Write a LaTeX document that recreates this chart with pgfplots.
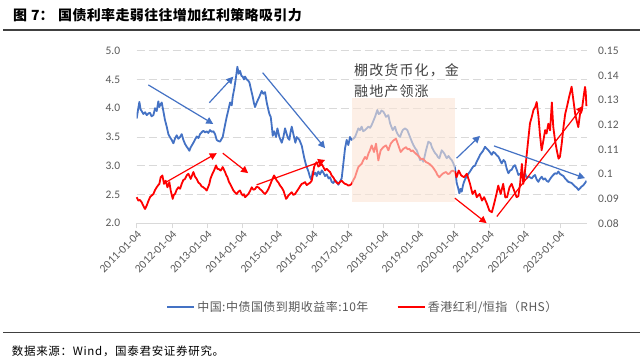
\documentclass[border=0pt]{standalone}
\usepackage{pgfplots}
\pgfplotsset{compat=1.18}
\usepackage{fontspec}
\setmainfont{Carlito}
\newfontfamily\cjk{Noto Sans CJK SC}
\usetikzlibrary{arrows.meta}
\definecolor{myblue}{HTML}{4472C4}
\definecolor{myred}{HTML}{FF0000}
\definecolor{peach}{HTML}{FBE5D6}
\definecolor{txtgray}{HTML}{595959}
\definecolor{gridgray}{HTML}{D9D9D9}
\definecolor{rulegray}{HTML}{404040}
\begin{document}
\begin{tikzpicture}[x=1pt,y=1pt]
\useasboundingbox (0,0) rectangle (640,362);
% title
\node[anchor=west, inner sep=0pt] at (13,347) {\cjk\bfseries\fontsize{14}{14}\selectfont 图\hspace{4pt}7：};
\node[anchor=west, inner sep=0pt] at (58,347) {\cjk\bfseries\fontsize{14}{14}\selectfont\addfontfeature{LetterSpace=2.5}国债利率走弱往往增加红利策略吸引力};
\draw[rulegray, line width=1.5pt] (3,332) -- (640,332);
\draw[rulegray, line width=1.5pt] (3,29.3) -- (640,29.3);
\node[anchor=west, inner sep=0pt] at (11.7,10.3) {\cjk\fontsize{11.5}{11.5}\selectfont\addfontfeature{LetterSpace=6}数据来源：Wind，国泰君安证券研究。};

\begin{axis}[
  at={(136.7pt,138.7pt)}, anchor=south west, scale only axis,
  width=450pt, height=172.6pt,
  xmin=2011, xmax=2023.758, ymin=2, ymax=5,
  xtick={2011,2012,2013,2014,2015,2016,2017,2018,2019,2020,2021,2022,2023},
  xticklabels={2011-01-04,2012-01-04,2013-01-04,2014-01-04,2015-01-04,2016-01-04,2017-01-04,2018-01-04,2019-01-04,2020-01-04,2021-01-04,2022-01-04,2023-01-04},
  x tick label style={rotate=45, anchor=north east, font=\fontsize{11.5}{11.5}\selectfont, text=txtgray, inner sep=1pt},
  ytick={2,2.5,3,3.5,4,4.5,5},
  /pgf/number format/fixed, /pgf/number format/fixed zerofill, /pgf/number format/precision=1,
  /pgf/number format/assume math mode=true,
  y tick label style={font=\fontsize{11.5}{11.5}\selectfont, text=txtgray, xshift=-8pt},
  ymajorgrids, grid style={gridgray, dash pattern=on 8pt off 4pt, line width=0.8pt},
  axis x line*=bottom, axis y line*=left,
  y axis line style={draw=none}, ytick style={draw=none},
  x axis line style={gridgray, line width=1pt, -},
  xtick style={gridgray, line width=0.8pt}, tick align=outside, major tick length=5pt,
]
\addplot[myblue, line width=1.8pt, line join=round] coordinates {
(2011.000,3.82) (2011.040,3.98) (2011.076,4.11) (2011.110,3.98) (2011.142,3.95) (2011.189,3.90)
(2011.240,3.93) (2011.284,3.88) (2011.330,3.91) (2011.378,3.92) (2011.420,3.86) (2011.473,3.88)
(2011.520,4.00) (2011.567,3.95) (2011.614,4.12) (2011.640,4.02) (2011.662,4.05) (2011.709,4.10)
(2011.756,3.95) (2011.800,3.80) (2011.851,3.68) (2011.898,3.55) (2011.940,3.50) (2011.992,3.45)
(2012.040,3.39) (2012.090,3.48) (2012.134,3.53) (2012.180,3.47) (2012.229,3.50) (2012.276,3.55)
(2012.323,3.45) (2012.370,3.38) (2012.418,3.33) (2012.455,3.30) (2012.493,3.26) (2012.530,3.32)
(2012.560,3.35) (2012.607,3.40) (2012.650,3.45) (2012.701,3.51) (2012.750,3.48) (2012.796,3.55)
(2012.840,3.58) (2012.890,3.61) (2012.940,3.58) (2012.985,3.60) (2013.030,3.57) (2013.079,3.62)
(2013.130,3.59) (2013.174,3.60) (2013.221,3.55) (2013.268,3.45) (2013.315,3.43) (2013.363,3.42)
(2013.400,3.46) (2013.439,3.50) (2013.470,3.60) (2013.505,3.71) (2013.552,3.85) (2013.599,3.97)
(2013.647,4.10) (2013.694,4.05) (2013.722,4.20) (2013.769,4.35) (2013.817,4.55) (2013.854,4.72)
(2013.892,4.60) (2013.930,4.65) (2013.970,4.56) (2014.006,4.55) (2014.040,4.50) (2014.072,4.55)
(2014.119,4.50) (2014.160,4.48) (2014.195,4.45) (2014.232,4.35) (2014.289,4.20) (2014.320,4.10)
(2014.355,4.02) (2014.403,4.10) (2014.440,4.15) (2014.478,4.20) (2014.544,4.30) (2014.590,4.25)
(2014.639,4.28) (2014.686,4.10) (2014.730,3.98) (2014.762,3.90) (2014.800,3.85) (2014.828,3.70)
(2014.856,3.52) (2014.894,3.60) (2014.951,3.50) (2014.989,3.65) (2015.045,3.50) (2015.112,3.40)
(2015.159,3.50) (2015.206,3.65) (2015.253,3.55) (2015.290,3.48) (2015.329,3.45) (2015.360,3.58)
(2015.395,3.68) (2015.442,3.55) (2015.499,3.40) (2015.537,3.50) (2015.612,3.45) (2015.679,3.35)
(2015.745,3.15) (2015.802,3.01) (2015.868,2.90) (2015.915,2.80) (2015.950,2.76) (2015.991,2.90)
(2016.028,2.85) (2016.070,2.88) (2016.104,2.82) (2016.150,2.90) (2016.198,2.85) (2016.250,2.92)
(2016.293,2.88) (2016.340,2.82) (2016.388,2.85) (2016.440,2.78) (2016.481,2.80) (2016.530,2.72)
(2016.575,2.70) (2016.620,2.75) (2016.670,2.72) (2016.717,2.67) (2016.760,2.72) (2016.811,2.78)
(2016.859,3.04) (2016.906,3.30) (2016.953,3.45) (2017.000,3.36) (2017.048,3.50) (2017.095,3.45)
(2017.140,3.47) (2017.189,3.50) (2017.240,3.58) (2017.284,3.65) (2017.330,3.62) (2017.378,3.68)
(2017.420,3.60) (2017.473,3.62) (2017.520,3.65) (2017.568,3.68) (2017.620,3.66) (2017.662,3.71)
(2017.710,3.78) (2017.757,3.85) (2017.823,3.97) (2017.860,3.90) (2017.898,3.91) (2017.940,3.96)
(2017.993,3.94) (2018.030,3.90) (2018.068,3.85) (2018.135,3.88) (2018.182,3.74) (2018.220,3.68)
(2018.258,3.62) (2018.324,3.68) (2018.360,3.60) (2018.390,3.56) (2018.430,3.52) (2018.466,3.50)
(2018.500,3.56) (2018.541,3.62) (2018.607,3.65) (2018.673,3.62) (2018.710,3.56) (2018.749,3.50)
(2018.800,3.42) (2018.844,3.36) (2018.900,3.30) (2018.938,3.27) (2018.990,3.18) (2019.033,3.10)
(2019.080,3.12) (2019.127,3.07) (2019.170,3.18) (2019.203,3.27) (2019.269,3.42) (2019.335,3.39)
(2019.370,3.32) (2019.411,3.27) (2019.460,3.22) (2019.505,3.19) (2019.540,3.15) (2019.581,3.13)
(2019.647,3.27) (2019.713,3.22) (2019.750,3.18) (2019.789,3.13) (2019.840,3.17) (2019.883,3.13)
(2019.930,3.10) (2019.978,3.04) (2020.025,2.96) (2020.072,2.70) (2020.110,2.62) (2020.148,2.52)
(2020.180,2.60) (2020.214,2.55) (2020.250,2.66) (2020.280,2.72) (2020.320,2.78) (2020.356,2.81)
(2020.400,2.86) (2020.450,2.90) (2020.500,2.95) (2020.545,2.99) (2020.590,3.00) (2020.639,3.07)
(2020.690,3.13) (2020.734,3.19) (2020.770,3.22) (2020.809,3.25) (2020.850,3.30) (2020.876,3.33)
(2020.920,3.30) (2020.970,3.27) (2021.020,3.23) (2021.065,3.19) (2021.110,3.24) (2021.159,3.22)
(2021.210,3.18) (2021.254,3.16) (2021.300,3.10) (2021.348,3.04) (2021.400,3.10) (2021.443,3.07)
(2021.490,2.95) (2021.537,2.87) (2021.590,2.92) (2021.632,2.93) (2021.680,2.99) (2021.726,3.01)
(2021.780,2.92) (2021.821,2.84) (2021.870,2.86) (2021.915,2.81) (2021.960,2.84) (2022.010,2.87)
(2022.060,2.78) (2022.104,2.81) (2022.150,2.80) (2022.199,2.78) (2022.250,2.82) (2022.293,2.84)
(2022.340,2.76) (2022.388,2.72) (2022.430,2.77) (2022.482,2.81) (2022.530,2.76) (2022.577,2.78)
(2022.620,2.74) (2022.671,2.72) (2022.720,2.77) (2022.766,2.81) (2022.810,2.84) (2022.860,2.87)
(2022.910,2.86) (2022.955,2.90) (2023.000,2.86) (2023.049,2.84) (2023.100,2.82) (2023.144,2.78)
(2023.190,2.75) (2023.238,2.72) (2023.290,2.71) (2023.333,2.70) (2023.380,2.67) (2023.427,2.64)
(2023.475,2.62) (2023.522,2.58) (2023.570,2.61) (2023.616,2.64) (2023.660,2.66) (2023.711,2.70)
(2023.750,2.74)
};
\end{axis}

\begin{axis}[
  at={(136.7pt,138.7pt)}, anchor=south west, scale only axis,
  width=450pt, height=172.6pt,
  xmin=2011, xmax=2023.758, ymin=0.08, ymax=0.15,
  axis x line=none, axis y line*=right,
  y axis line style={draw=none}, ytick style={draw=none},
  ytick={0.08,0.09,0.1,0.11,0.12,0.13,0.14,0.15},
  /pgf/number format/fixed, /pgf/number format/precision=2,
  /pgf/number format/assume math mode=true,
  y tick label style={font=\fontsize{11.5}{11.5}\selectfont, text=txtgray, xshift=8pt},
  clip=false,
  legend style={at={(axis description cs:0.0644,-0.484)}, anchor=west, draw=none, fill=none,
    inner sep=0pt, font=\cjk\fontsize{12}{12}\selectfont\addfontfeature{LetterSpace=4}, text=txtgray,
    /tikz/every even column/.append style={column sep=26pt}, nodes={inner sep=2pt}},
  legend columns=2,
  legend image code/.code={\draw[#1, line width=2.4pt] (0pt,0pt) -- (27pt,0pt);},
]
\addlegendimage{myblue}
\addlegendentry{中国:中债国债到期收益率:10年}
\addplot[myred, line width=1.8pt, line join=round] coordinates {
(2011.000,0.0906) (2011.047,0.0892) (2011.090,0.0895) (2011.142,0.0885) (2011.190,0.0870) (2011.236,0.0858)
(2011.284,0.0872) (2011.330,0.0890) (2011.378,0.0906) (2011.420,0.0912) (2011.473,0.0919) (2011.520,0.0935)
(2011.567,0.0946) (2011.610,0.0955) (2011.643,0.0960) (2011.681,0.0987) (2011.728,0.0994) (2011.775,0.0960)
(2011.822,0.0973) (2011.870,0.0946) (2011.926,0.0967) (2011.964,0.0933) (2012.021,0.0899) (2012.050,0.0915)
(2012.087,0.0919) (2012.130,0.0935) (2012.181,0.0946) (2012.230,0.0940) (2012.276,0.0960) (2012.320,0.0975)
(2012.371,0.0980) (2012.420,0.0995) (2012.465,0.1001) (2012.531,0.0980) (2012.607,0.1008) (2012.650,0.0990)
(2012.701,0.0980) (2012.750,0.0965) (2012.796,0.0960) (2012.840,0.0950) (2012.890,0.0946) (2012.940,0.0940)
(2012.985,0.0933) (2013.020,0.0945) (2013.060,0.0960) (2013.090,0.0980) (2013.127,0.0994) (2013.160,0.1005)
(2013.193,0.1014) (2013.250,0.1035) (2013.290,0.1020) (2013.316,0.1021) (2013.382,0.1014) (2013.439,0.1028)
(2013.505,0.1008) (2013.540,0.0995) (2013.571,0.0987) (2013.610,0.0970) (2013.647,0.0960) (2013.700,0.0945)
(2013.741,0.0933) (2013.790,0.0925) (2013.836,0.0919) (2013.880,0.0928) (2013.930,0.0933) (2013.970,0.0920)
(2014.006,0.0913) (2014.040,0.0918) (2014.072,0.0906) (2014.120,0.0912) (2014.166,0.0919) (2014.210,0.0930)
(2014.261,0.0946) (2014.310,0.0936) (2014.355,0.0939) (2014.400,0.0948) (2014.450,0.0946) (2014.500,0.0938)
(2014.544,0.0933) (2014.590,0.0925) (2014.639,0.0919) (2014.690,0.0928) (2014.733,0.0939) (2014.780,0.0955)
(2014.828,0.0973) (2014.894,0.0994) (2014.930,0.0985) (2014.970,0.0973) (2015.020,0.0965) (2015.064,0.0953)
(2015.110,0.0945) (2015.159,0.0933) (2015.200,0.0915) (2015.234,0.0899) (2015.270,0.0905) (2015.301,0.0913)
(2015.350,0.0920) (2015.395,0.0926) (2015.440,0.0915) (2015.490,0.0919) (2015.540,0.0930) (2015.584,0.0939)
(2015.630,0.0950) (2015.679,0.0960) (2015.720,0.0962) (2015.773,0.0967) (2015.820,0.0955) (2015.868,0.0960)
(2015.920,0.0965) (2015.962,0.0973) (2016.000,0.1000) (2016.028,0.1028) (2016.060,0.1040) (2016.104,0.1048)
(2016.150,0.1030) (2016.198,0.1035) (2016.250,0.1040) (2016.293,0.1028) (2016.340,0.1015) (2016.388,0.1021)
(2016.433,0.1014) (2016.482,0.1008) (2016.528,0.0994) (2016.580,0.0985) (2016.622,0.0973) (2016.670,0.0965)
(2016.717,0.0960) (2016.760,0.0968) (2016.811,0.0973) (2016.860,0.0965) (2016.906,0.0960) (2016.950,0.0958)
(2017.000,0.0953) (2017.050,0.0955) (2017.095,0.0960) (2017.140,0.0975) (2017.189,0.0987) (2017.240,0.1010)
(2017.284,0.1028) (2017.330,0.1035) (2017.378,0.1041) (2017.420,0.1055) (2017.473,0.1069) (2017.520,0.1060)
(2017.568,0.1082) (2017.610,0.1095) (2017.662,0.1116) (2017.728,0.1089) (2017.785,0.1123) (2017.851,0.1055)
(2017.917,0.1096) (2017.993,0.1109) (2018.068,0.1116) (2018.135,0.1096) (2018.201,0.1123) (2018.276,0.1136)
(2018.352,0.1143) (2018.418,0.1116) (2018.484,0.1089) (2018.560,0.1102) (2018.636,0.1109) (2018.680,0.1100)
(2018.730,0.1102) (2018.780,0.1092) (2018.825,0.1096) (2018.870,0.1088) (2018.919,0.1082) (2018.970,0.1075)
(2019.014,0.1069) (2019.060,0.1060) (2019.108,0.1062) (2019.160,0.1055) (2019.203,0.1048) (2019.250,0.1045)
(2019.297,0.1041) (2019.340,0.1035) (2019.392,0.1028) (2019.440,0.1018) (2019.486,0.1008) (2019.530,0.0995)
(2019.581,0.0987) (2019.630,0.0995) (2019.675,0.1001) (2019.720,0.1005) (2019.770,0.1008) (2019.820,0.1000)
(2019.864,0.1001) (2019.910,0.1010) (2019.959,0.1014) (2020.025,0.1008) (2020.070,0.0987) (2020.130,0.1014)
(2020.200,0.0994) (2020.280,0.0987) (2020.360,0.1001) (2020.450,0.0960) (2020.520,0.0919) (2020.590,0.0933)
(2020.640,0.0906) (2020.720,0.0919) (2020.790,0.0892) (2020.850,0.0906) (2020.930,0.0879) (2021.000,0.0851)
(2021.070,0.0845) (2021.120,0.0872) (2021.200,0.0919) (2021.250,0.0953) (2021.320,0.0919) (2021.390,0.0960)
(2021.450,0.0905) (2021.500,0.0906) (2021.570,0.0946) (2021.630,0.0960) (2021.700,0.0933) (2021.770,0.0906)
(2021.820,0.0910) (2021.870,0.0960) (2021.920,0.1041) (2021.960,0.0960) (2022.000,0.1001) (2022.050,0.1069)
(2022.100,0.1138) (2022.150,0.1206) (2022.200,0.1231) (2022.250,0.1260) (2022.300,0.1272) (2022.340,0.1292)
(2022.390,0.1234) (2022.430,0.1164) (2022.480,0.1096) (2022.530,0.1136) (2022.580,0.1178) (2022.620,0.1164)
(2022.670,0.1204) (2022.720,0.1177) (2022.770,0.1290) (2022.810,0.1191) (2022.860,0.1136) (2022.910,0.1096)
(2022.960,0.1062) (2023.000,0.1070) (2023.050,0.1123) (2023.100,0.1191) (2023.150,0.1245) (2023.200,0.1274)
(2023.260,0.1313) (2023.330,0.1354) (2023.380,0.1300) (2023.430,0.1245) (2023.470,0.1218) (2023.520,0.1190)
(2023.570,0.1245) (2023.620,0.1259) (2023.670,0.1313) (2023.710,0.1353) (2023.730,0.1333) (2023.750,0.1275)
};
\addlegendentry{香港红利/恒指（RHS）}
% shaded period
\fill[peach, fill opacity=0.6] (axis cs:2017.10,0.08863) rectangle (axis cs:2020.02,0.13063);
% blue arrows
\begin{scope}[myblue, line width=1.2pt, -{Triangle[length=7pt,width=7pt]}]
\draw (axis cs:2011.33,0.13612) -- (axis cs:2013.17,0.12030);
\draw (axis cs:2013.06,0.12893) -- (axis cs:2013.74,0.13948);
\draw (axis cs:2014.57,0.14109) -- (axis cs:2016.34,0.11047);
\draw (axis cs:2020.07,0.10641) -- (axis cs:2020.73,0.11544);
\draw (axis cs:2021.13,0.11138) -- (axis cs:2023.71,0.09832);
\end{scope}
\begin{scope}[myred, line width=1.2pt, -{Triangle[length=7pt,width=7pt]}]
\draw (axis cs:2011.75,0.09601) -- (axis cs:2013.27,0.10844);
\draw (axis cs:2013.44,0.10844) -- (axis cs:2014.16,0.10035);
\draw (axis cs:2014.40,0.09559) -- (axis cs:2016.34,0.10567);
\draw (axis cs:2020.02,0.09020) -- (axis cs:2020.92,0.08007);
\draw (axis cs:2021.21,0.08275) -- (axis cs:2023.66,0.12760);
\end{scope}
\end{axis}
\node[anchor=west, inner sep=0pt, text=rulegray] at (354,292) {\cjk\fontsize{14}{14}\selectfont\addfontfeature{LetterSpace=8}棚改货币化，金};
\node[anchor=west, inner sep=0pt, text=rulegray] at (354,270.3) {\cjk\fontsize{14}{14}\selectfont\addfontfeature{LetterSpace=8}融地产领涨};
\end{tikzpicture}
\end{document}
